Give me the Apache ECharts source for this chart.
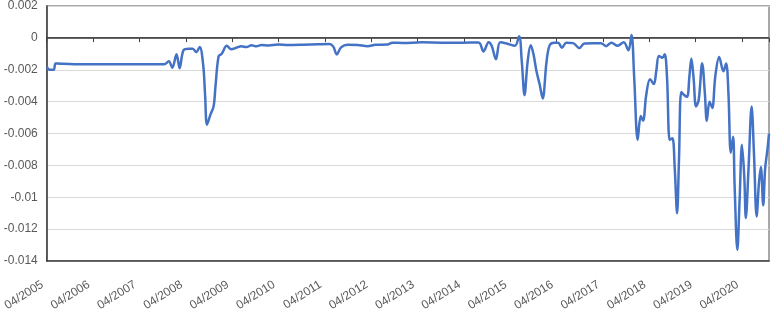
<!DOCTYPE html>
<html>
<head>
<meta charset="utf-8">
<script src="https://cdn.jsdelivr.net/npm/echarts@6/dist/echarts.min.js"></script>
<style>html,body{margin:0;padding:0;background:#fff}#c{width:774px;height:328px}</style>
</head>
<body>
<div id="c"></div>
<script>
// months elapsed since 04/2005
var monthOffset = [0,0.77,1.8,2.3,3.6,7.2,14.9,22.6,30.4,31.6,32.5,33.6,34.4,35.4,36.8,37.8,38.7,39.6,40.5,41.0,41.5,42.4,43.2,43.7,44.5,45.3,46.6,47.8,49.1,50.4,51.7,53,54.3,55.6,57.4,59.9,62.5,66.4,70.2,73.2,74.2,75.1,76.2,77.9,80.5,83.1,85.1,88.2,89.5,92.1,97.2,102.4,107.5,111.8,113.1,114.4,115.2,116.3,117.4,119.1,121.2,122.3,123,123.7,124.5,125.3,126,126.8,127.6,128.4,129.4,130.2,131.4,132.4,133.4,134.5,136.3,137.9,139.2,141.5,143.5,144.8,146.2,147.8,149.4,150.6,151.4,152.1,153,153.8,154.4,155.2,156.2,157.2,157.8,158.5,159.4,160,160.6,161.3,162,162.6,163.2,163.7,164.3,165.1,165.8,166.4,166.9,167.5,168.1,168.8,169.7,170.4,170.9,171.6,172.3,173.1,174.1,175.2,175.9,176.5,177.1,177.7,178.1,178.8,179.4,180,180.6,181,181.7,182.5,183.1,183.8,184.4,184.9,185.5,186,186.6,187];
var values = [-0.0018,-0.002,-0.002,-0.0016,-0.00162,-0.00165,-0.00166,-0.00166,-0.00166,-0.00147,-0.00187,-0.00103,-0.0019,-0.00078,-0.00068,-0.00068,-0.0009,-0.00057,-0.0017,-0.0036,-0.00545,-0.0048,-0.0043,-0.003,-0.00115,-0.001,-0.0005,-0.00072,-0.00062,-0.00053,-0.00058,-0.00047,-0.00053,-0.00045,-0.00048,-0.00042,-0.00045,-0.00043,-0.0004,-0.00038,-0.00055,-0.00104,-0.0006,-0.00043,-0.00045,-0.00052,-0.00043,-0.00042,-0.0003,-0.00032,-0.00028,-0.0003,-0.0003,-0.00029,-0.00085,-0.00027,-0.0005,-0.00134,-0.00027,-0.00035,-0.0005,0.0001,-0.0015,-0.0036,-0.0015,-0.00047,-0.001,-0.0021,-0.0029,-0.0038,-0.0015,-0.00047,-0.0003,-0.0003,-0.00062,-0.0003,-0.00033,-0.00064,-0.00035,-0.00033,-0.00033,-0.00052,-0.0003,-0.0005,-0.00027,-0.00078,0.00018,-0.0025,-0.0064,-0.0049,-0.0052,-0.0036,-0.0026,-0.0029,-0.0021,-0.00114,-0.00124,-0.00103,-0.0025,-0.0064,-0.0063,-0.0082,-0.011,-0.0076,-0.0034,-0.0036,-0.0037,-0.0024,-0.0013,-0.0026,-0.0043,-0.0039,-0.0016,-0.0035,-0.0052,-0.004,-0.0044,-0.0024,-0.0012,-0.0021,-0.0016,-0.0035,-0.0072,-0.0062,-0.0093,-0.0133,-0.0101,-0.0067,-0.0087,-0.0113,-0.0082,-0.0043,-0.0072,-0.0112,-0.0091,-0.0081,-0.0105,-0.0082,-0.007,-0.006];
var tickLabels = ["04/2005","04/2006","04/2007","04/2008","04/2009","04/2010","04/2011","04/2012","04/2013","04/2014","04/2015","04/2016","04/2017","04/2018","04/2019","04/2020"];

var points = monthOffset.map(function (m, i) { return [m, values[i]]; });
var chart = echarts.init(document.getElementById('c'), null, {renderer: 'canvas'});
var lblFont = {color: '#595959', fontSize: 12, fontFamily: 'Liberation Sans, Arial, sans-serif'};
var plotTop = 4, plotBottom = 67, plotH = 328 - plotTop - plotBottom;
chart.setOption({
  animation: false,
  grid: {left: 42, right: 5, top: plotTop, bottom: plotBottom, show: true, borderColor: '#8c8c8c', borderWidth: 1.5, z: 0},
  xAxis: [{
    type: 'value', min: 0, max: 187, interval: 12, position: 'bottom', z: 10,
    axisLine: {show: true, onZero: false, lineStyle: {color: '#404040', width: 1.5}},
    axisTick: {show: false},
    splitLine: {show: false},
    axisLabel: Object.assign({
      rotate: 32, margin: 20, padding: [0, 5, 0, 0], showMaxLabel: false,
      formatter: function (v) { return v % 12 === 0 ? (tickLabels[v / 12] || '') : ''; }
    }, lblFont)
  }, {
    // zero-line axis carrying the yearly tick marks
    type: 'value', min: 0, max: 187, interval: 12, position: 'top', offset: -plotH / 8, z: 10,
    axisLine: {show: true, onZero: false, lineStyle: {color: '#404040', width: 1.5}},
    axisTick: {show: true, inside: true, length: 4, lineStyle: {color: '#404040', width: 1}},
    splitLine: {show: false},
    axisLabel: {show: false}
  }],
  yAxis: {
    type: 'value', min: -0.014, max: 0.002, interval: 0.002, z: 10,
    axisLine: {show: true, onZero: false, lineStyle: {color: '#404040', width: 1.5}},
    axisTick: {show: false},
    splitLine: {show: true, lineStyle: {color: '#d9d9d9', width: 1}},
    axisLabel: Object.assign({
      margin: 9,
      formatter: function (v) { return String(parseFloat(v.toFixed(3))); }
    }, lblFont)
  },
  series: [{
    type: 'line', xAxisIndex: 0, yAxisIndex: 0, data: points, showSymbol: false, symbol: 'none',
    smooth: 0.35, z: 20,
    lineStyle: {color: '#4472C4', width: 2.5},
    markLine: {
      silent: true, symbol: 'none', label: {show: false}, z: 9,
      lineStyle: {color: '#404040', width: 1.5, type: 'solid'},
      data: [{yAxis: 0}]
    }
  }]
});
</script>
</body>
</html>
